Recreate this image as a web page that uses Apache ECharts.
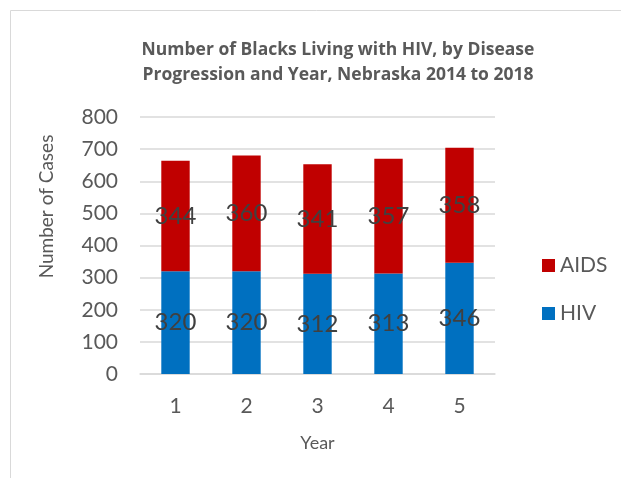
<!DOCTYPE html>
<html><head><meta charset="utf-8">
<script src="https://cdn.jsdelivr.net/npm/echarts@6/dist/echarts.min.js"></script>
<style>html,body{margin:0;padding:0;background:#fff}#c{width:621px;height:478px}</style>
</head><body><div id="c"></div>
<script>
const categories = ['1','2','3','4','5'];
const hivValues = [320, 320, 312, 313, 346];
const aidsValues = [344, 360, 341, 357, 358];
const yTicks = [0,100,200,300,400,500,600,700,800];

const chart = echarts.init(document.getElementById('c'), null, {renderer:'canvas'});
const lblFont = 'Lato, "DejaVu Sans", sans-serif';
const labelStyle = {show:true, position:'inside', color:'#404040', fontSize:24, fontFamily:lblFont, formatter: p => p.value};
chart.setOption({
  animation:false,
  graphic:[{type:'rect', shape:{x:10.5,y:10.5,width:640,height:480}, style:{fill:null, stroke:'#d9d9d9', lineWidth:1}, silent:true}],
  title:{text:'Number of Blacks Living with HIV, by Disease\nProgression and Year, Nebraska 2014 to 2018', left:333, top:33, textAlign:'center',
    textStyle:{color:'#595959', fontSize:17.5, fontWeight:'bold', fontFamily:'"Open Sans", Lato, sans-serif', lineHeight:25}},
  legend:{orient:'vertical', left:537, top:250, itemGap:27, itemWidth:13, itemHeight:13, icon:'rect',
    data:['AIDS','HIV'], textStyle:{color:'#595959', fontSize:21, fontFamily:lblFont}},
  grid:{left:140, right:126, top:117, bottom:104},
  xAxis:{type:'category', data:categories, name:'Year', nameLocation:'middle', nameGap:60,
    nameTextStyle:{color:'#595959', fontSize:18, fontFamily:lblFont},
    axisLine:{lineStyle:{color:'#d9d9d9', width:1.5}}, axisTick:{show:false},
    axisLabel:{color:'#595959', fontSize:21, fontFamily:lblFont, margin:22}},
  yAxis:{type:'value', min:0, max:800, interval:100, name:'Number of Cases', nameLocation:'middle', nameGap:84,
    nameTextStyle:{color:'#595959', fontSize:19, fontFamily:lblFont, padding:[0,0,0,78]},
    axisLine:{show:false}, axisTick:{show:false},
    axisLabel:{color:'#595959', fontSize:21, fontFamily:lblFont, margin:22, formatter: v => yTicks.includes(v) ? String(v) : ''},
    splitLine:{lineStyle:{color:'#d9d9d9', width:1.5}}},
  series:[
    {name:'HIV', type:'bar', stack:'t', data:hivValues, barWidth:'40%', itemStyle:{color:'#0070C0'}, label:labelStyle},
    {name:'AIDS', type:'bar', stack:'t', data:aidsValues, barWidth:'40%', itemStyle:{color:'#C00000'}, label:labelStyle}
  ]
});
</script></body></html>
